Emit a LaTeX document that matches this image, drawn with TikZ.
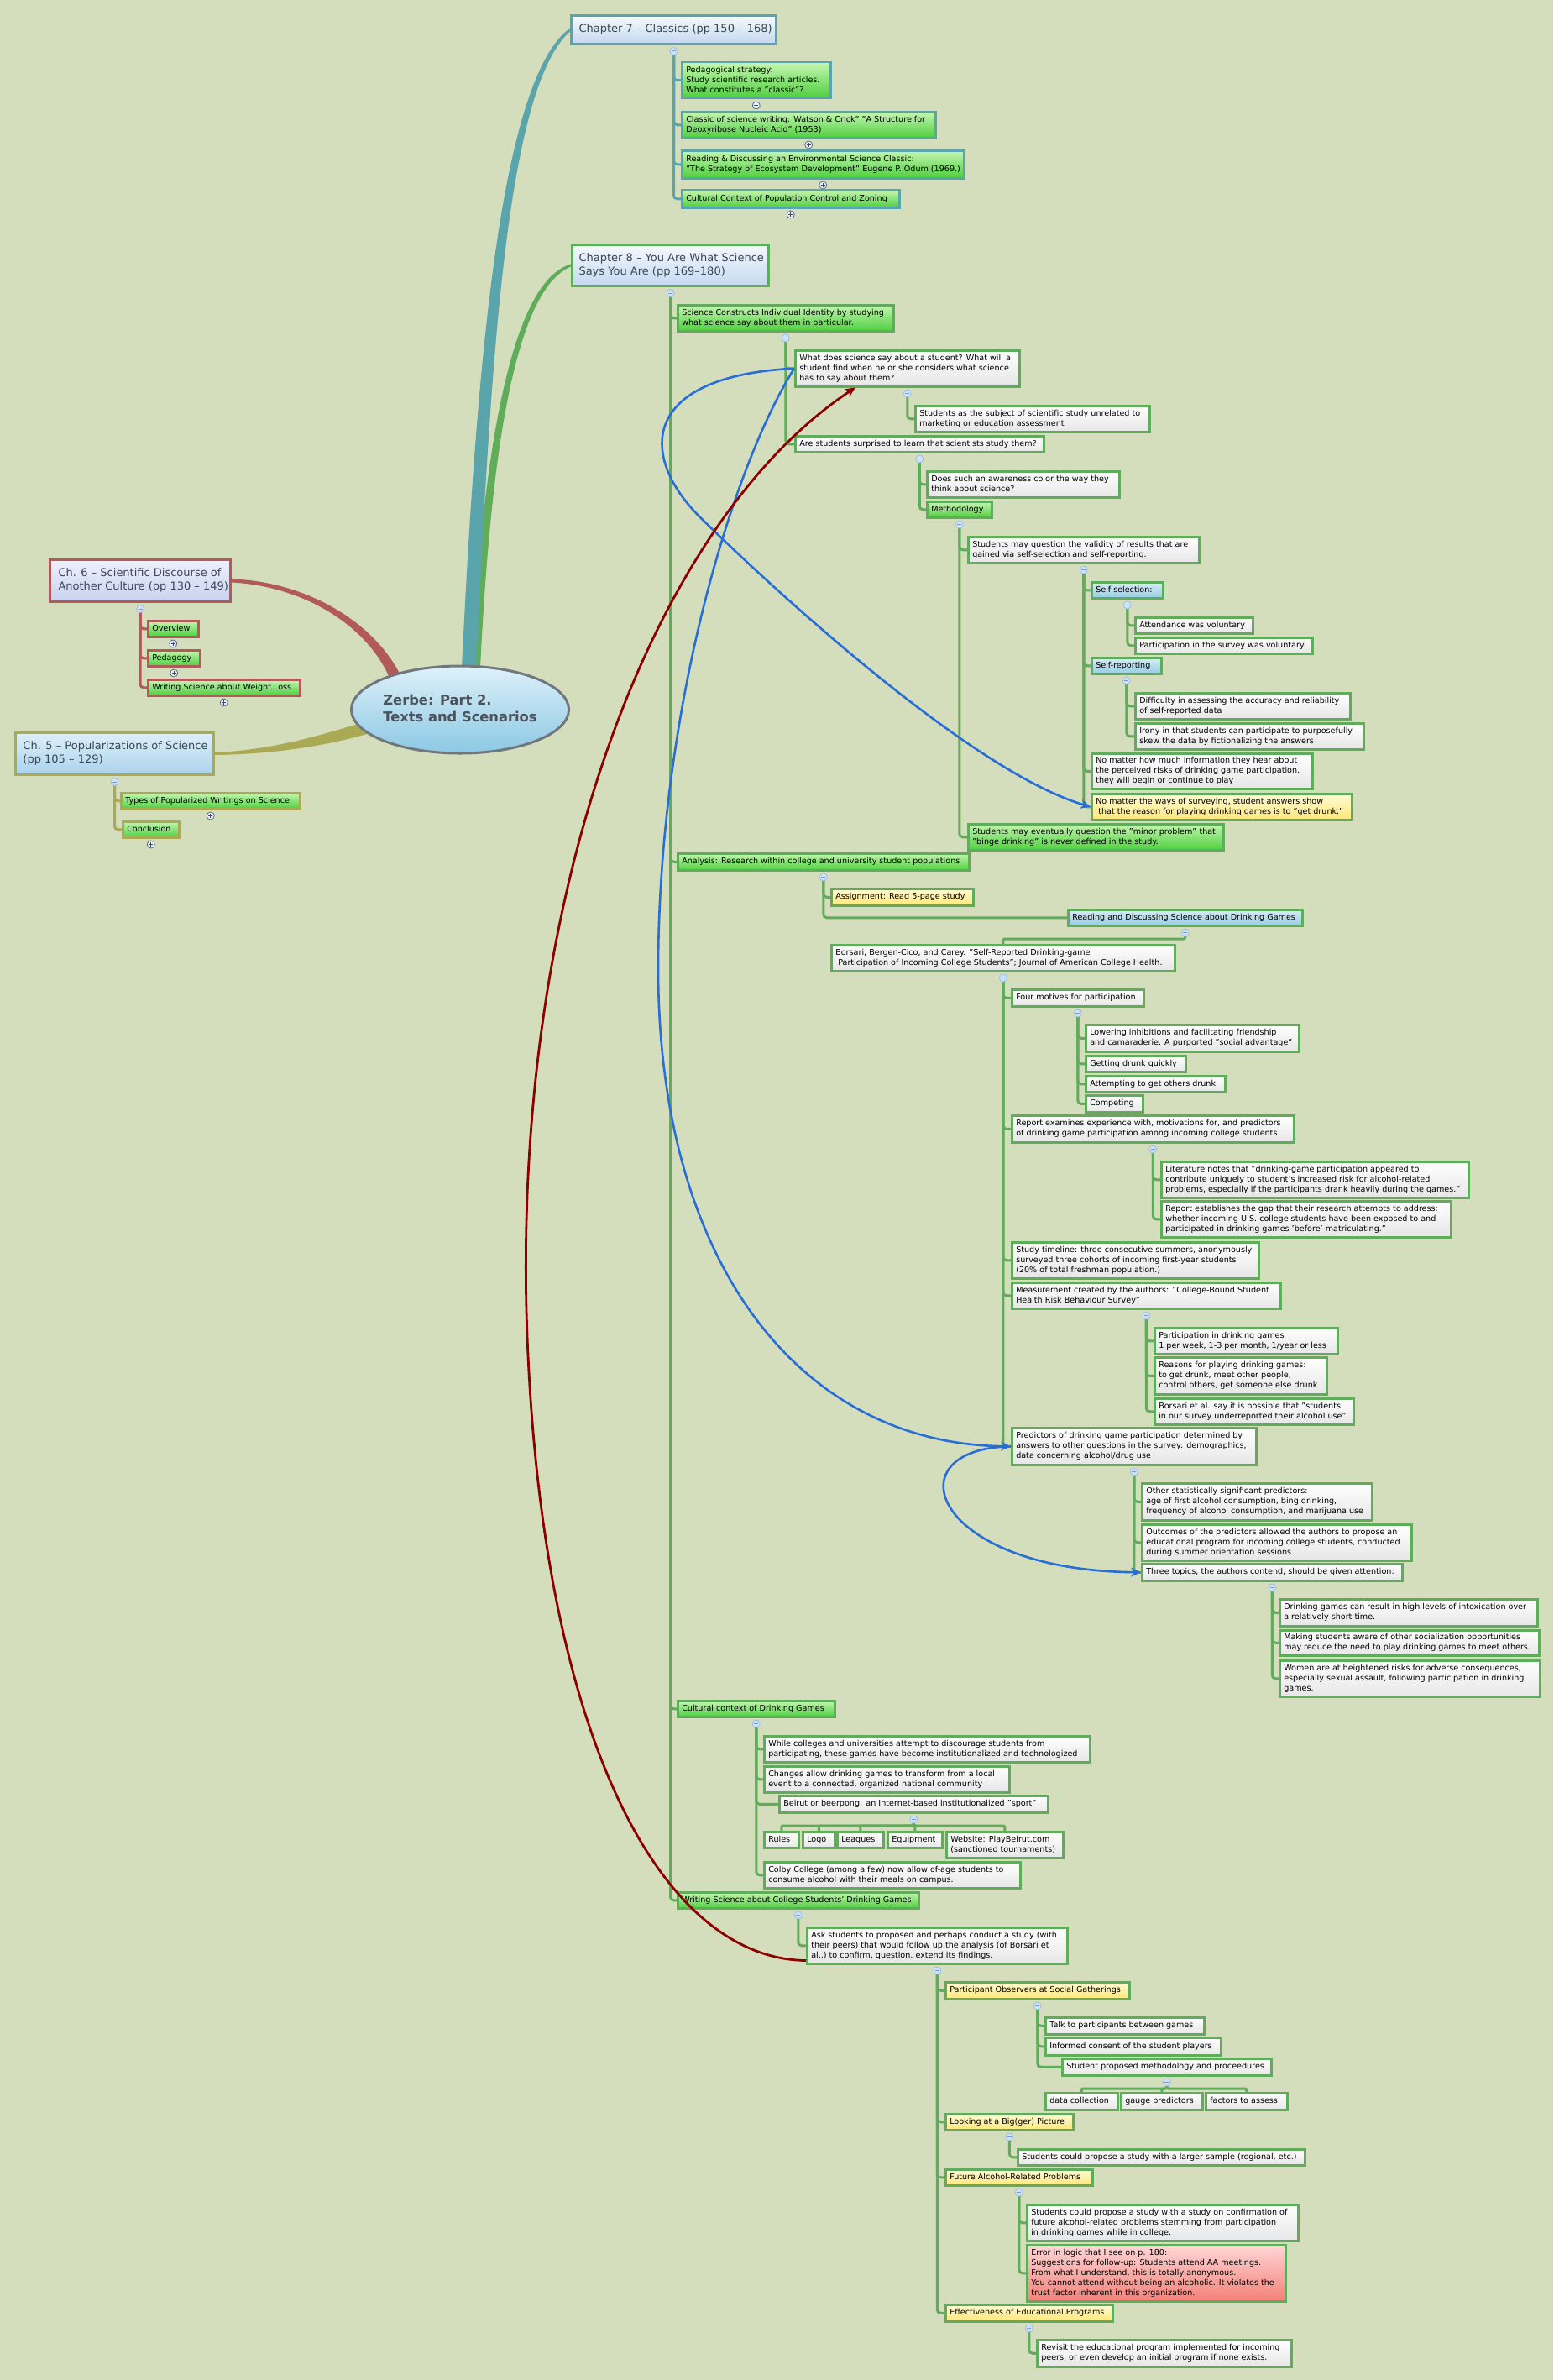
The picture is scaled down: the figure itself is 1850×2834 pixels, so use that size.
\documentclass[tikz,border=0pt]{standalone}
\usepackage{fontspec}
\setmainfont{DejaVu Sans}
\usetikzlibrary{shapes.geometric,arrows.meta,calc}
\definecolor{bgc}{RGB}{213,222,188}
\definecolor{gL}{RGB}{95,172,90}
\definecolor{tL}{RGB}{90,165,172}
\definecolor{rL}{RGB}{178,90,90}
\definecolor{oL}{RGB}{170,170,85}
\definecolor{gT}{RGB}{196,246,176}
\definecolor{gB}{RGB}{78,206,62}
\definecolor{wB}{RGB}{230,230,230}
\definecolor{bT}{RGB}{214,236,246}
\definecolor{bB}{RGB}{150,205,228}
\definecolor{yT}{RGB}{255,252,214}
\definecolor{yB}{RGB}{255,230,120}
\definecolor{rT}{RGB}{255,214,214}
\definecolor{rB}{RGB}{244,128,120}
\definecolor{cT}{RGB}{246,249,253}
\definecolor{cB}{RGB}{196,216,240}
\definecolor{c6T}{RGB}{238,240,252}
\definecolor{c6B}{RGB}{200,210,240}
\definecolor{c5T}{RGB}{222,240,248}
\definecolor{c5B}{RGB}{170,210,236}
\definecolor{hT}{RGB}{222,241,250}
\definecolor{hB}{RGB}{140,200,228}
\definecolor{hubL}{RGB}{112,120,126}
\definecolor{hubT}{RGB}{74,82,90}
\definecolor{chT}{RGB}{60,72,86}
\definecolor{cmD}{RGB}{160,190,228}
\definecolor{cmF}{RGB}{208,226,248}
\definecolor{cmS}{RGB}{120,155,210}
\definecolor{cpD}{RGB}{90,105,135}
\definecolor{cpF}{RGB}{232,240,250}
\definecolor{cpS}{RGB}{60,72,100}
\definecolor{blA}{RGB}{40,110,215}
\definecolor{rdA}{RGB}{140,0,0}
\pgfdeclarelayer{back}\pgfdeclarelayer{bg}\pgfsetlayers{back,bg,main}
\tikzset{
 nbase/.style={draw, line width=2.5pt, font=\fontsize{9.6}{12}\selectfont, text=black},
 gnode/.style={nbase, top color=gT, bottom color=gB, draw=gL},
 wnode/.style={nbase, top color=white, bottom color=wB, draw=gL},
 bnode/.style={nbase, top color=bT, bottom color=bB, draw=gL},
 ynode/.style={nbase, top color=yT, bottom color=yB, draw=gL},
 rnode/.style={nbase, top color=rT, bottom color=rB, draw=gL},
 chap/.style={draw, line width=3pt, font=\fontsize{13}{16}\selectfont, text=chT, top color=cT, bottom color=cB},
 conn/.style={line width=3pt, rounded corners=4pt},
 cmin/.style={circle, draw=cmD, fill=cmF, line width=0.8pt, minimum size=9pt, inner sep=0pt,
   path picture={\draw[cmS, line width=1pt] ([xshift=-2.5pt]path picture bounding box.center) -- ([xshift=2.5pt]path picture bounding box.center);}},
 cplus/.style={circle, draw=cpD, fill=cpF, line width=0.8pt, minimum size=9pt, inner sep=0pt,
   path picture={\draw[cpS, line width=1pt] ([xshift=-2.5pt]path picture bounding box.center) -- ([xshift=2.5pt]path picture bounding box.center) ([yshift=-2.5pt]path picture bounding box.center) -- ([yshift=2.5pt]path picture bounding box.center);}},
 barr/.style={blA, line width=2.6pt, -{Stealth[length=12pt,width=11pt]}},
 rarr/.style={rdA, line width=2.8pt, -{Stealth[length=12pt,width=11pt]}},
}
\newcommand\mbx[8][5]{%
  \pgfmathsetmacro\mmW{#6-#4}%
  \pgfmathsetmacro\mmH{#7-#5}%
  \node[#3, anchor=north west, minimum width=\mmW pt, minimum height=\mmH pt, inner sep=0pt] (#2) at (#4,#5) {\makebox[\mmW pt][l]{\hspace{#1pt}\begin{tabular}{@{}l@{}}#8\end{tabular}}};%
}
\newcommand\cm[1]{\node[cmin] (m-#1) at ($(#1.south)+(0,7)$) {};}
\newcommand\cp[1]{\node[cplus] (p-#1) at ($(#1.south)+(0,7)$) {};}
\newcommand\kids[3]{\foreach \kk in {#3}{\draw[conn,draw=#1] (m-#2.center) |- (\kk.west);}}
\newcommand\tops[3]{\foreach \kk in {#3}{\draw[conn,draw=#1,rounded corners=2pt] (m-#2.center) -- ++(0,7.5) -| (\kk.north);}}
\begin{document}
\begin{tikzpicture}[x=1pt,y=-1pt]
\useasboundingbox (0,0) rectangle (1850,2834);
\begin{pgfonlayer}{back}\fill[bgc] (0,0) rectangle (1850,2834);\end{pgfonlayer}

% hub
\node[ellipse, draw=hubL, line width=3pt, top color=hT, bottom color=hB, minimum width=258pt, minimum height=104pt, inner sep=0pt, font=\fontsize{16.3}{20}\selectfont\bfseries, text=hubT] (hub) at (548,845) {\begin{tabular}{@{}l@{}}Zerbe: Part 2.\\Texts and Scenarios\end{tabular}};

% chapter 6
\mbx[10]{ch6}{chap,draw=rL,top color=c6T,bottom color=c6B}{58}{665}{273}{715}{Ch. 6 – Scientific Discourse of\\Another Culture (pp 130 – 149)}
\mbx{ov}{gnode,draw=rL}{175}{738}{235}{757}{Overview}
\mbx{ped}{gnode,draw=rL}{175}{773}{237}{792}{Pedagogy}
\mbx{wsw}{gnode,draw=rL}{175}{808}{356}{827}{Writing Science about Weight Loss}
% chapter 5
\mbx[9]{ch5}{chap,draw=oL,top color=c5T,bottom color=c5B}{17}{871}{253}{921}{Ch. 5 – Popularizations of Science\\(pp 105 – 129)}
\mbx{typ}{gnode,draw=oL}{143}{943}{356}{962}{Types of Popularized Writings on Science}
\mbx{con}{gnode,draw=oL}{145}{977}{212}{996}{Conclusion}
% chapter 7
\mbx[9]{ch7}{chap,draw=tL}{679}{17}{923}{51}{Chapter 7 – Classics (pp 150 – 168)}
\mbx{c7a}{gnode,draw=tL}{811}{73}{988}{116}{Pedagogical strategy:\\Study scientific research articles.\\What constitutes a "classic"?}
\mbx{c7b}{gnode,draw=tL}{811}{132}{1113}{163}{Classic of science writing: Watson \& Crick" "A Structure for\\Deoxyribose Nucleic Acid" (1953)}
\mbx{c7c}{gnode,draw=tL}{811}{178}{1147}{211}{Reading \& Discussing an Environmental Science Classic:\\"The Strategy of Ecosystem Development" Eugene P. Odum (1969.)}
\mbx{c7d}{gnode,draw=tL}{811}{225}{1070}{246}{Cultural Context of Population Control and Zoning}
% chapter 8
\mbx[8]{ch8}{chap,draw=gL}{680}{290}{914}{339}{Chapter 8 – You Are What Science\\Says You Are (pp 169–180)}
\mbx{sc}{gnode}{806}{362}{1063}{393}{Science Constructs Individual Identity by studying\\what science say about them in particular.}
\mbx{wd}{wnode}{946}{416}{1213}{459}{What does science say about a student? What will a\\student find when he or she considers what science\\has to say about them?}
\mbx{sa}{wnode}{1089}{482}{1368}{513}{Students as the subject of scientific study unrelated to\\marketing or education assessment}
\mbx{as}{wnode}{946}{518}{1242}{537}{Are students surprised to learn that scientists study them?}
\mbx{dsa}{wnode}{1103}{560}{1332}{591}{Does such an awareness color the way they\\think about science?}
\mbx{meth}{gnode}{1103}{596}{1180}{615}{Methodology}
\mbx{smq}{wnode}{1152}{638}{1427}{669}{Students may question the validity of results that are\\gained via self-selection and self-reporting.}
\mbx{ssel}{bnode}{1299}{692}{1384}{711}{Self-selection:}
\mbx{att}{wnode}{1351}{734}{1491}{753}{Attendance was voluntary}
\mbx{par}{wnode}{1351}{758}{1562}{777}{Participation in the survey was voluntary}
\mbx{srep}{bnode}{1299}{782}{1382}{801}{Self-reporting}
\mbx{dif}{wnode}{1351}{824}{1607}{855}{Difficulty in assessing the accuracy and reliability\\of self-reported data}
\mbx{iro}{wnode}{1351}{860}{1623}{891}{Irony in that students can participate to purposefully\\skew the data by fictionalizing the answers}
\mbx{nmh}{wnode}{1299}{896}{1562}{938}{No matter how much information they hear about\\the perceived risks of drinking game participation,\\they will begin or continue to play}
\mbx{nmw}{ynode}{1299}{944}{1609}{975}{No matter the ways of surveying, student answers show\\\hspace{3pt}that the reason for playing drinking games is to "get drunk."}
\mbx{sme}{gnode}{1152}{980}{1456}{1011}{Students may eventually question the "minor problem" that\\"binge drinking" is never defined in the study.}
\mbx{ana}{gnode}{806}{1015}{1153}{1035}{Analysis: Research within college and university student populations}
\mbx{asg}{ynode}{989}{1057}{1158}{1077}{Assignment: Read 5-page study}
\mbx{rd}{bnode}{1271}{1082}{1550}{1101}{Reading and Discussing Science about Drinking Games}
\mbx{bor}{wnode}{989}{1124}{1398}{1155}{Borsari, Bergen-Cico, and Carey. "Self-Reported Drinking-game\\\hspace{3pt}Participation of Incoming College Students"; Journal of American College Health.}
\mbx{fm}{wnode}{1204}{1177}{1361}{1197}{Four motives for participation}
\mbx{low}{wnode}{1292}{1219}{1546}{1251}{Lowering inhibitions and facilitating friendship\\and camaraderie. A purported "social advantage"}
\mbx{gdq}{wnode}{1292}{1256}{1411}{1275}{Getting drunk quickly}
\mbx{atg}{wnode}{1292}{1280}{1458}{1299}{Attempting to get others drunk}
\mbx{cmp}{wnode}{1292}{1303}{1360}{1323}{Competing}
\mbx{rep}{wnode}{1204}{1327}{1540}{1359}{Report examines experience with, motivations for, and predictors\\of drinking game participation among incoming college students.}
\mbx{lit}{wnode}{1382}{1382}{1748}{1425}{Literature notes that "drinking-game participation appeared to\\contribute uniquely to student's increased risk for alcohol-related\\problems, especially if the participants drank heavily during the games."}
\mbx{gap}{wnode}{1382}{1429}{1727}{1472}{Report establishes the gap that their research attempts to address:\\whether incoming U.S. college students have been exposed to and\\participated in drinking games 'before' matriculating."}
\mbx{stl}{wnode}{1204}{1478}{1498}{1521}{Study timeline: three consecutive summers, anonymously\\surveyed three cohorts of incoming first-year students\\(20\% of total freshman population.)}
\mbx{mea}{wnode}{1204}{1526}{1524}{1557}{Measurement created by the authors: "College-Bound Student\\Health Risk Behaviour Survey"}
\mbx{pdg}{wnode}{1374}{1580}{1592}{1611}{Participation in drinking games\\1 per week, 1-3 per month, 1/year or less}
\mbx{rsn}{wnode}{1374}{1615}{1579}{1659}{Reasons for playing drinking games:\\to get drunk, meet other people,\\control others, get someone else drunk}
\mbx{bea}{wnode}{1374}{1664}{1611}{1695}{Borsari et al. say it is possible that "students\\in our survey underreported their alcohol use"}
\mbx{pre}{wnode}{1204}{1699}{1495}{1743}{Predictors of drinking game participation determined by\\answers to other questions in the survey: demographics,\\data concerning alcohol/drug use}
\mbx{oth}{wnode}{1359}{1765}{1633}{1809}{Other statistically significant predictors:\\age of first alcohol consumption, bing drinking,\\frequency of alcohol consumption, and marijuana use}
\mbx{out}{wnode}{1359}{1814}{1680}{1857}{Outcomes of the predictors allowed the authors to propose an\\educational program for incoming college students, conducted\\during summer orientation sessions}
\mbx{thr}{wnode}{1359}{1861}{1669}{1881}{Three topics, the authors contend, should be given attention:}
\mbx{dg}{wnode}{1523}{1903}{1830}{1935}{Drinking games can result in high levels of intoxication over\\a relatively short time.}
\mbx{mk}{wnode}{1523}{1940}{1832}{1970}{Making students aware of other socialization opportunities\\may reduce the need to play drinking games to meet others.}
\mbx{wom}{wnode}{1523}{1976}{1833}{2019}{Women are at heightened risks for adverse consequences,\\especially sexual assault, following participation in drinking\\games.}
\mbx{cul}{gnode}{806}{2024}{993}{2043}{Cultural context of Drinking Games}
\mbx{whl}{wnode}{909}{2066}{1297}{2097}{While colleges and universities attempt to discourage students from\\participating, these games have become institutionalized and technologized}
\mbx{chg}{wnode}{909}{2102}{1201}{2133}{Changes allow drinking games to transform from a local\\event to a connected, organized national community}
\mbx{bei}{wnode}{927}{2137}{1247}{2157}{Beirut or beerpong: an Internet-based institutionalized "sport"}
\mbx{rul}{wnode}{909}{2180}{950}{2199}{Rules}
\mbx{logo}{wnode}{955}{2180}{993}{2199}{Logo}
\mbx{lea}{wnode}{996}{2180}{1051}{2199}{Leagues}
\mbx{equ}{wnode}{1056}{2180}{1121}{2199}{Equipment}
\mbx{web}{wnode}{1126}{2180}{1265}{2211}{Website: PlayBeirut.com\\(sanctioned tournaments)}
\mbx{col}{wnode}{909}{2216}{1214}{2247}{Colby College (among a few) now allow of-age students to\\consume alcohol with their meals on campus.}
\mbx{wsc}{gnode}{806}{2252}{1093}{2271}{Writing Science about College Students' Drinking Games}
\mbx{ask}{wnode}{960}{2294}{1270}{2337}{Ask students to proposed and perhaps conduct a study (with\\their peers) that would follow up the analysis (of Borsari et\\al.,) to confirm, question, extend its findings.}
\mbx{po}{ynode}{1125}{2359}{1344}{2379}{Participant Observers at Social Gatherings}
\mbx{tlk}{wnode}{1244}{2401}{1433}{2421}{Talk to participants between games}
\mbx{inf}{wnode}{1244}{2425}{1453}{2446}{Informed consent of the student players}
\mbx{spm}{wnode}{1264}{2450}{1513}{2470}{Student proposed methodology and proceedures}
\mbx{dc}{wnode}{1244}{2491}{1330}{2511}{data collection}
\mbx{gp}{wnode}{1334}{2491}{1431}{2511}{gauge predictors}
\mbx{fa}{wnode}{1435}{2491}{1532}{2511}{factors to assess}
\mbx{lbp}{ynode}{1125}{2516}{1277}{2535}{Looking at a Big(ger) Picture}
\mbx{scl}{wnode}{1211}{2558}{1553}{2577}{Students could propose a study with a larger sample (regional, etc.)}
\mbx{far}{ynode}{1125}{2582}{1300}{2601}{Future Alcohol-Related Problems}
\mbx{scf}{wnode}{1222}{2624}{1545}{2667}{Students could propose a study with a study on confirmation of\\future alcohol-related problems stemming from participation\\in drinking games while in college.}
\mbx{err}{rnode}{1222}{2672}{1530}{2739}{Error in logic that I see on p. 180:\\Suggestions for follow-up: Students attend AA meetings.\\From what I understand, this is totally anonymous.\\You cannot attend without being an alcoholic. It violates the\\trust factor inherent in this organization.}
\mbx{eff}{ynode}{1125}{2743}{1324}{2763}{Effectiveness of Educational Programs}
\mbx{rev}{wnode}{1234}{2785}{1537}{2817}{Revisit the educational program implemented for incoming\\peers, or even develop an initial program if none exists.}

% collapse / expand markers
\foreach \n in {ch6,ch5,ch7,ch8,sc,wd,as,meth,smq,ssel,srep,ana,rd,bor,fm,rep,mea,pre,thr,cul,bei,wsc,ask,po,spm,lbp,far,eff}{\cm{\n}}
\foreach \n in {ov,ped,wsw,typ,con,c7a,c7b,c7c,c7d}{\cp{\n}}

\begin{pgfonlayer}{bg}
% main branches (tapered)
\fill[gL] ($(hub.north)+(13,4)$) .. controls (575,550) and (606,336) .. ($(ch8.west)+(0,-1.5)$) -- ($(ch8.west)+(0,1.5)$) .. controls (611,346) and (584,552) .. ($(hub.north)+(24,4)$) -- cycle;
\fill[tL] ($(hub.north)+(2,4)$) .. controls (567,450) and (594,95) .. ($(ch7.west)+(0,-2)$) -- ($(ch7.west)+(0,2)$) .. controls (601,106) and (584,450) .. ($(hub.north)+(19,4)$) -- cycle;
\fill[rL] ($(ch6.east)+(0,-2)$) .. controls (361,692) and (444,738) .. (477,804) -- (465,809) .. controls (436,742) and (359,698) .. ($(ch6.east)+(0,2)$) -- cycle;
\fill[oL] ($(ch5.east)+(0,-1.5)$) .. controls (330,893) and (392,872) .. (440,858) -- (444,872) .. controls (394,887) and (330,898) .. ($(ch5.east)+(0,1.5)$) -- cycle;
% tree connectors
\kids{rL}{ch6}{ov,ped,wsw}
\kids{oL}{ch5}{typ,con}
\kids{tL}{ch7}{c7a,c7b,c7c,c7d}
\kids{gL}{ch8}{sc,ana,cul,wsc}
\kids{gL}{sc}{wd,as}
\kids{gL}{wd}{sa}
\kids{gL}{as}{dsa,meth}
\kids{gL}{meth}{smq,sme}
\kids{gL}{smq}{ssel,srep,nmh,nmw}
\kids{gL}{ssel}{att,par}
\kids{gL}{srep}{dif,iro}
\kids{gL}{ana}{asg,rd}
\tops{gL}{rd}{bor}
\kids{gL}{bor}{fm,rep,stl,mea,pre}
\kids{gL}{fm}{low,gdq,atg,cmp}
\kids{gL}{rep}{lit,gap}
\kids{gL}{mea}{pdg,rsn,bea}
\kids{gL}{pre}{oth,out,thr}
\kids{gL}{thr}{dg,mk,wom}
\kids{gL}{cul}{whl,chg,bei,col}
\tops{gL}{bei}{rul,logo,lea,equ,web}
\kids{gL}{wsc}{ask}
\kids{gL}{ask}{po,lbp,far,eff}
\kids{gL}{po}{tlk,inf,spm}
\tops{gL}{spm}{dc,gp,fa}
\kids{gL}{lbp}{scl}
\kids{gL}{far}{scf,err}
\kids{gL}{eff}{rev}
\end{pgfonlayer}

% cross links
\draw[barr] (wd.west) .. controls (760,448) and (760,545) .. (837,619) .. controls (930,710) and (1160,920) .. (nmw.west);
\draw[barr] (wd.west) .. controls (870,560) and (785,850) .. (784,1150) .. controls (783,1500) and (950,1720) .. (pre.west);
\draw[barr] (pre.west) .. controls (1060,1725) and (1110,1870) .. (thr.west);
\draw[rarr] ($(ask.south west)+(0,-5)$) .. controls (780,2332) and (640,2050) .. (627,1560) .. controls (615,1050) and (780,620) .. ($(wd.south west)!0.27!(wd.south east)$);
\end{tikzpicture}
\end{document}
